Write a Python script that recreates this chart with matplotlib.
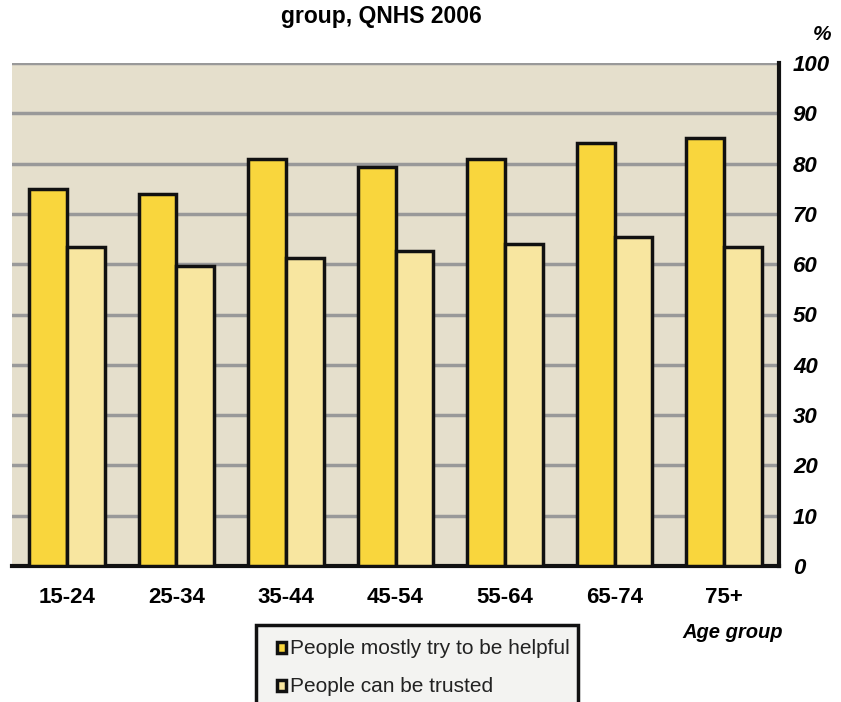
import numpy as np
import matplotlib.pyplot as plt
from matplotlib.patches import Rectangle

plt.rcParams['font.family'] = ['Liberation Sans', 'DejaVu Sans']

# Datos
grupos = ['15-24', '25-34', '35-44', '45-54', '55-64', '65-74', '75+']
ayudan = [75, 74, 81, 79.3, 81, 84, 85]
confian = [63.5, 59.6, 61.2, 62.6, 64, 65.4, 63.5]
yticks = [0, 10, 20, 30, 40, 50, 60, 70, 80, 90, 100]

fig = plt.figure(figsize=(8.41, 7.02), dpi=100)
ax = fig.add_axes([12/841, 136/702, 767/841, 503/702])
ax.set_facecolor('#E5DFCC')

x = np.arange(len(grupos))
w = 0.345
b1 = ax.bar(x - w/2, ayudan, w, color='#F9D63D', edgecolor='#111111', linewidth=2.5, zorder=3,
            label='People mostly try to be helpful')
b2 = ax.bar(x + w/2, confian, w, color='#F8E6A0', edgecolor='#111111', linewidth=2.5, zorder=3,
            label='People can be trusted')

ax.set_xlim(-0.5, len(grupos) - 0.5)
ax.set_ylim(0, 100)
ax.set_yticks(yticks)
ax.yaxis.tick_right()
ax.set_yticklabels([str(v) for v in yticks], fontsize=16, fontweight='bold', style='italic')
ax.tick_params(axis='y', length=0, pad=10)
for lab in ax.get_yticklabels():
    lab.set_horizontalalignment('left')
ax.set_xticks(x)
ax.set_xticklabels(grupos, fontsize=16, fontweight='bold')
ax.tick_params(axis='x', length=0, pad=15)
ax.grid(axis='y', color='#999999', linewidth=2.5, zorder=1)

for s in ['left', 'top']:
    ax.spines[s].set_visible(False)
ax.spines['right'].set_linewidth(3)
ax.spines['bottom'].set_linewidth(3)
ax.spines['right'].set_color('#111111')
ax.spines['bottom'].set_color('#111111')

fig.text(381/841, 1 - 17/702, 'group, QNHS 2006', ha='center', va='center', fontsize=16.5, fontweight='bold')
fig.text(822/841, 1 - 35/702, '%', ha='center', va='center', fontsize=15, fontweight='bold', style='italic')
fig.text(733/841, 1 - 632/702, 'Age group', ha='center', va='center', fontsize=14.5, fontweight='bold', style='italic')

# Leyenda
fig.patches.append(Rectangle((256/841, -0.01), 322/841, 1 - 625/702 + 0.01, transform=fig.transFigure,
                             facecolor='#F3F3F1', edgecolor='#111111', linewidth=2.5))
for i, (bar, txt) in enumerate([(b1, 'People mostly try to be helpful'), (b2, 'People can be trusted')]):
    yy = 1 - (648 + 38 * i) / 702
    fig.patches.append(Rectangle((277/841, yy - 5/702), 9/841, 11/702, transform=fig.transFigure,
                                 facecolor=bar.patches[0].get_facecolor(), edgecolor='#111111', linewidth=2.5))
    fig.text(290/841, yy, txt, ha='left', va='center', fontsize=15, color='#222222')

fig.savefig('out.png', dpi=100)
